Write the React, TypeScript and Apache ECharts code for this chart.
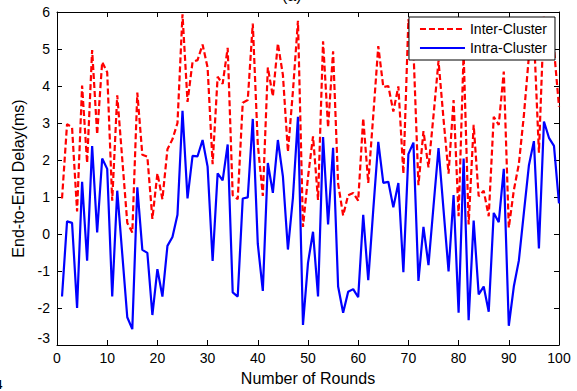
import React, { useEffect, useRef } from "react";
import * as echarts from "echarts";

const rounds: number[] = Array.from({ length: 100 }, (_, i) => i + 1);

const interCluster: number[] = [
  0.96, 2.97, 2.88, 0.61, 4.01, 1.92, 4.97, 2.69, 4.65, 4.37,
  0.9, 3.75, 2.02, 0.3, 0.04, 3.82, 2.14, 2.09, 0.41, 1.64,
  0.94, 2.29, 2.56, 3.0, 5.94, 3.57, 4.65, 4.7, 5.12, 4.5,
  1.89, 4.25, 4.06, 5.03, 1.05, 0.94, 3.55, 3.62, 5.69, 2.42,
  1.03, 4.5, 3.72, 5.15, 4.3, 2.22, 3.86, 5.76, 0.19, 1.54,
  2.64, 0.92, 5.21, 2.88, 4.94, 1.36, 0.5, 1.05, 1.11, 0.9,
  3.13, 1.38, 3.2, 5.08, 3.97, 4.0, 3.31, 3.99, 1.63, 5.8,
  5.0, 1.32, 2.78, 1.8, 3.2, 4.68, 3.1, 1.63, 3.62, 0.48,
  4.9, 0.26, 2.95, 1.02, 1.17, 0.48, 3.17, 2.95, 4.39, 0.17,
  1.18, 1.89, 3.2, 4.8, 5.4, 2.2, 5.9, 5.5, 5.0, 3.44,
];

const intraCluster: number[] = [
  -1.69, 0.34, 0.3, -2.0, 1.41, -0.72, 2.38, 0.04, 2.04, 1.76,
  -1.69, 1.17, -0.54, -2.25, -2.57, 1.26, -0.43, -0.51, -2.19, -0.95,
  -1.69, -0.32, -0.08, 0.52, 3.33, 0.96, 2.11, 2.1, 2.54, 1.82,
  -0.73, 1.64, 1.45, 2.42, -1.58, -1.69, 0.96, 0.99, 3.11, -0.27,
  -1.54, 1.92, 1.11, 2.54, 1.56, -0.42, 0.98, 3.17, -2.46, -0.78,
  0.06, -1.69, 2.62, 0.26, 2.33, -1.42, -2.13, -1.56, -1.49, -1.71,
  0.52, -1.25, 0.65, 2.49, 1.38, 1.41, 0.72, 1.38, -1.03, 2.16,
  2.47, -1.27, 0.19, -0.84, 0.75, 2.32, 0.65, -1.01, 1.05, -2.13,
  2.04, -2.33, 0.36, -1.63, -1.42, -2.1, 0.57, 0.32, 1.76, -2.48,
  -1.42, -0.72, 0.57, 1.85, 2.51, -0.39, 3.04, 2.6, 2.38, 0.83,
];

const seriesNames = ["Inter-Cluster", "Intra-Cluster"];
const xTitle = "Number of Rounds";
const yTitle = "End-to-End Delay(ms)";

const FONT = "'Liberation Sans', Arial, sans-serif";

export default function App() {
  const ref = useRef<HTMLDivElement>(null);

  useEffect(() => {
    if (!ref.current) return;
    const chart = echarts.init(ref.current, undefined, { renderer: "svg" });

    const axisCommon = {
      axisLine: { show: true, onZero: false, lineStyle: { color: "#000", width: 1 } },
      axisTick: { show: true, inside: true, length: 5, lineStyle: { color: "#000" } },
      splitLine: { show: false },
    };

    chart.setOption({
      animation: false,
      backgroundColor: "#fff",
      textStyle: { fontFamily: FONT },
      grid: { left: 57, right: 18, top: 12, bottom: 40, containLabel: false },
      legend: {
        data: seriesNames,
        orient: "vertical",
        right: 22,
        top: 17,
        backgroundColor: "#fff",
        borderColor: "#000",
        borderWidth: 1,
        borderRadius: 0,
        padding: [5, 8, 5, 10],
        itemWidth: 45,
        itemHeight: 14,
        itemGap: 5,
        itemStyle: { opacity: 0, borderWidth: 0 },
        textStyle: { fontSize: 14, color: "#000", fontFamily: FONT },
      },
      xAxis: [
        {
          type: "value",
          min: 0,
          max: 100,
          interval: 10,
          name: xTitle,
          nameLocation: "middle",
          nameGap: 25,
          nameTextStyle: { fontSize: 16, color: "#000", fontFamily: FONT },
          axisLabel: { fontSize: 14, color: "#000", margin: 6, fontFamily: FONT },
          ...axisCommon,
        },
        {
          type: "value",
          position: "top",
          min: 0,
          max: 100,
          interval: 10,
          axisLabel: { show: false },
          ...axisCommon,
        },
      ],
      yAxis: [
        {
          type: "value",
          min: -3,
          max: 6,
          interval: 1,
          name: yTitle,
          nameLocation: "middle",
          nameGap: 27,
          nameTextStyle: { fontSize: 16, color: "#000", fontFamily: FONT },
          axisLabel: {
            fontSize: 14,
            color: "#000",
            margin: 7,
            fontFamily: FONT,
            formatter: (v: number) => (v === -3 ? "{lift|-3}" : String(v)),
            rich: { lift: { fontSize: 14, color: "#000", padding: [0, 0, 14, 0], fontFamily: FONT } },
          },
          ...axisCommon,
        },
        {
          type: "value",
          position: "right",
          min: -3,
          max: 6,
          interval: 1,
          axisLabel: { show: false },
          ...axisCommon,
        },
      ],
      series: [
        {
          name: seriesNames[0],
          type: "line",
          xAxisIndex: 0,
          yAxisIndex: 0,
          symbol: "none",
          data: rounds.map((r, i) => [r, interCluster[i]]),
          lineStyle: { color: "#ff0000", width: 2.2, type: [6, 3] },
          itemStyle: { color: "#ff0000" },
        },
        {
          name: seriesNames[1],
          type: "line",
          xAxisIndex: 0,
          yAxisIndex: 0,
          symbol: "none",
          data: rounds.map((r, i) => [r, intraCluster[i]]),
          lineStyle: { color: "#0000ff", width: 2.2, type: "solid" },
          itemStyle: { color: "#0000ff" },
        },
      ],
      graphic: [
        {
          type: "text",
          left: 282,
          top: -13,
          style: { text: "(a)", fontSize: 16, fill: "#000", fontFamily: FONT },
        },
        {
          type: "text",
          left: -5,
          top: 378,
          style: { text: "4", fontSize: 13, fontWeight: "bold", fill: "#000", fontFamily: FONT },
        },
      ],
    });

    return () => chart.dispose();
  }, []);

  return (
    <div
      ref={ref}
      style={{ position: "absolute", left: 0, top: 0, width: 577, height: 391 }}
    />
  );
}
